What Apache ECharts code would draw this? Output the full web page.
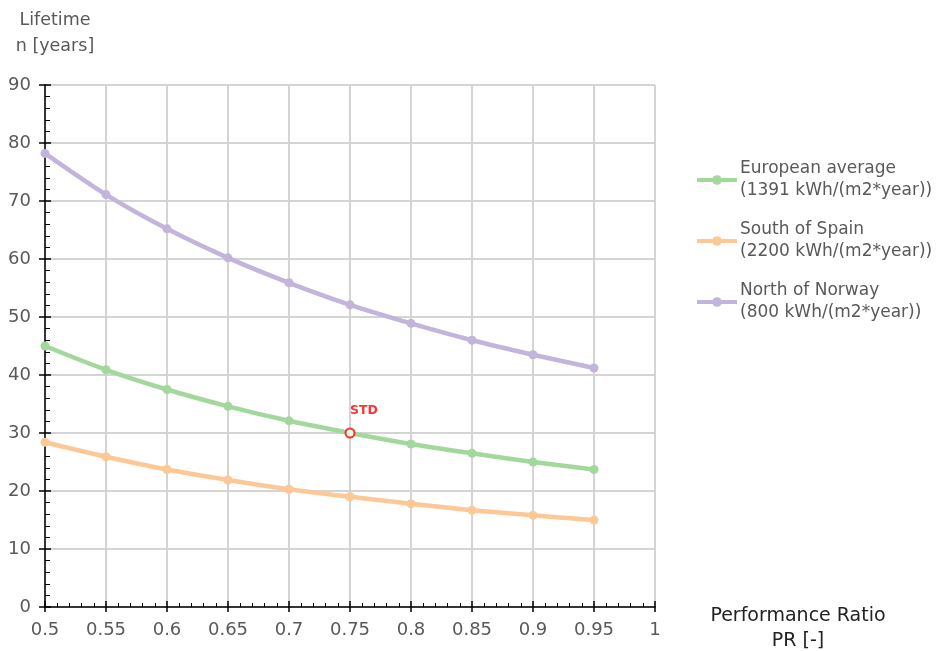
<!DOCTYPE html>
<html>
<head>
<meta charset="utf-8">
<script src="https://cdn.jsdelivr.net/npm/echarts@6/dist/echarts.min.js"></script>
<style>html,body{margin:0;padding:0;background:#fff}#c{width:944px;height:651px}</style>
</head>
<body>
<div id="c"></div>
<script>
const prValues = [0.5, 0.55, 0.6, 0.65, 0.7, 0.75, 0.8, 0.85, 0.9, 0.95];
const europeanAvg = [45.0, 40.9, 37.5, 34.6, 32.1, 30.0, 28.1, 26.5, 25.0, 23.7];
const southSpain = [28.4, 25.9, 23.7, 21.9, 20.3, 19.0, 17.8, 16.7, 15.8, 15.0];
const northNorway = [78.2, 71.1, 65.2, 60.2, 55.9, 52.1, 48.9, 46.0, 43.5, 41.2];
const seriesNames = ['European average\n(1391 kWh/(m2*year))', 'South of Spain\n(2200 kWh/(m2*year))', 'North of Norway\n(800 kWh/(m2*year))'];
const stdPoint = [0.75, 30.0];
const stdLabel = 'STD';

const FONT = '"DejaVu Sans", sans-serif';
const TXT = '#595959';
const pair = (xs, ys) => xs.map((x, i) => [x, ys[i]]);

function lineSeries(name, data, color) {
  return {
    name, type: 'line', data: pair(prValues, data),
    xAxisIndex: 0, yAxisIndex: 0,
    smooth: 0.3, symbol: 'circle', symbolSize: 9, showSymbol: true,
    lineStyle: { color, width: 4.5 },
    itemStyle: { color },
    emphasis: { disabled: true }, z: 3
  };
}

const chart = echarts.init(document.getElementById('c'), null, { renderer: 'canvas' });
chart.setOption({
  animation: false,
  backgroundColor: '#fff',
  textStyle: { fontFamily: FONT },
  grid: { left: 45, right: 289, top: 85, bottom: 44, containLabel: false, outerBoundsMode: 'none' },
  legend: {
    data: seriesNames,
    orient: 'vertical',
    left: 690, top: 142,
    itemWidth: 40, itemHeight: 12, itemGap: -5,
    lineStyle: { width: 4 },
    textStyle: { fontFamily: FONT, fontSize: 17, color: TXT, lineHeight: 22, padding: [22, 0, 0, -2] }
  },
  xAxis: [{
    type: 'value', min: 0.5, max: 1, interval: 0.05,
    name: 'Performance Ratio\nPR [-]', nameLocation: 'end', nameGap: 143,
    nameTextStyle: { fontFamily: FONT, fontSize: 19, color: '#222', align: 'center', verticalAlign: 'top', lineHeight: 25, padding: [-3, 0, 0, 0] },
    axisLine: { show: true, lineStyle: { color: '#000', width: 1.5 } },
    axisTick: { show: true, inside: true, length: 6, lineStyle: { color: '#000', width: 1.5 } },
    minorTick: { show: true, splitNumber: 5, length: 4, lineStyle: { color: '#000', width: 1 } },
    axisLabel: { fontFamily: FONT, fontSize: 18, color: TXT, margin: 14, formatter: v => String(+v.toFixed(2)) },
    splitLine: { show: true, lineStyle: { color: '#d4d4d4', width: 2 } }
  }, {
    type: 'value', min: 0.5, max: 1, interval: 0.05, position: 'bottom',
    axisLine: { show: false }, axisLabel: { show: false }, splitLine: { show: false },
    axisTick: { show: true, inside: false, length: 5, lineStyle: { color: '#000', width: 1.5 } }
  }],
  yAxis: [{
    type: 'value', min: 0, max: 90, interval: 10,
    name: 'Lifetime\nn [years]', nameLocation: 'end', nameGap: 26,
    nameTextStyle: { fontFamily: FONT, fontSize: 17.5, color: TXT, align: 'center', lineHeight: 26, padding: [0, 0, 0, 20] },
    axisLine: { show: true, lineStyle: { color: '#000', width: 1.5 } },
    axisTick: { show: true, inside: true, length: 6, lineStyle: { color: '#000', width: 1.5 } },
    minorTick: { show: true, splitNumber: 5, length: 5, lineStyle: { color: '#000', width: 1 } },
    axisLabel: { fontFamily: FONT, fontSize: 18, color: TXT, margin: 14 },
    splitLine: { show: true, lineStyle: { color: '#d4d4d4', width: 2 } }
  }, {
    type: 'value', min: 0, max: 90, interval: 10, position: 'left',
    axisLine: { show: false }, axisLabel: { show: false }, splitLine: { show: false },
    axisTick: { show: true, inside: false, length: 6, lineStyle: { color: '#000', width: 1.5 } }
  }],
  series: [
    lineSeries(seriesNames[0], europeanAvg, '#a3d89c'),
    lineSeries(seriesNames[1], southSpain, '#fcc895'),
    lineSeries(seriesNames[2], northNorway, '#c3b4dc'),
    {
      type: 'scatter', data: [stdPoint], xAxisIndex: 0, yAxisIndex: 0,
      symbol: 'circle', symbolSize: 9, z: 5,
      itemStyle: { color: '#fff', borderColor: '#ff0000', borderWidth: 2 },
      label: { show: true, position: 'top', distance: 10, formatter: stdLabel, color: '#ff0000', fontWeight: 'bold', fontSize: 12.5, fontFamily: FONT, offset: [14, 0] },
      emphasis: { disabled: true }
    }
  ]
});
</script>
</body>
</html>
